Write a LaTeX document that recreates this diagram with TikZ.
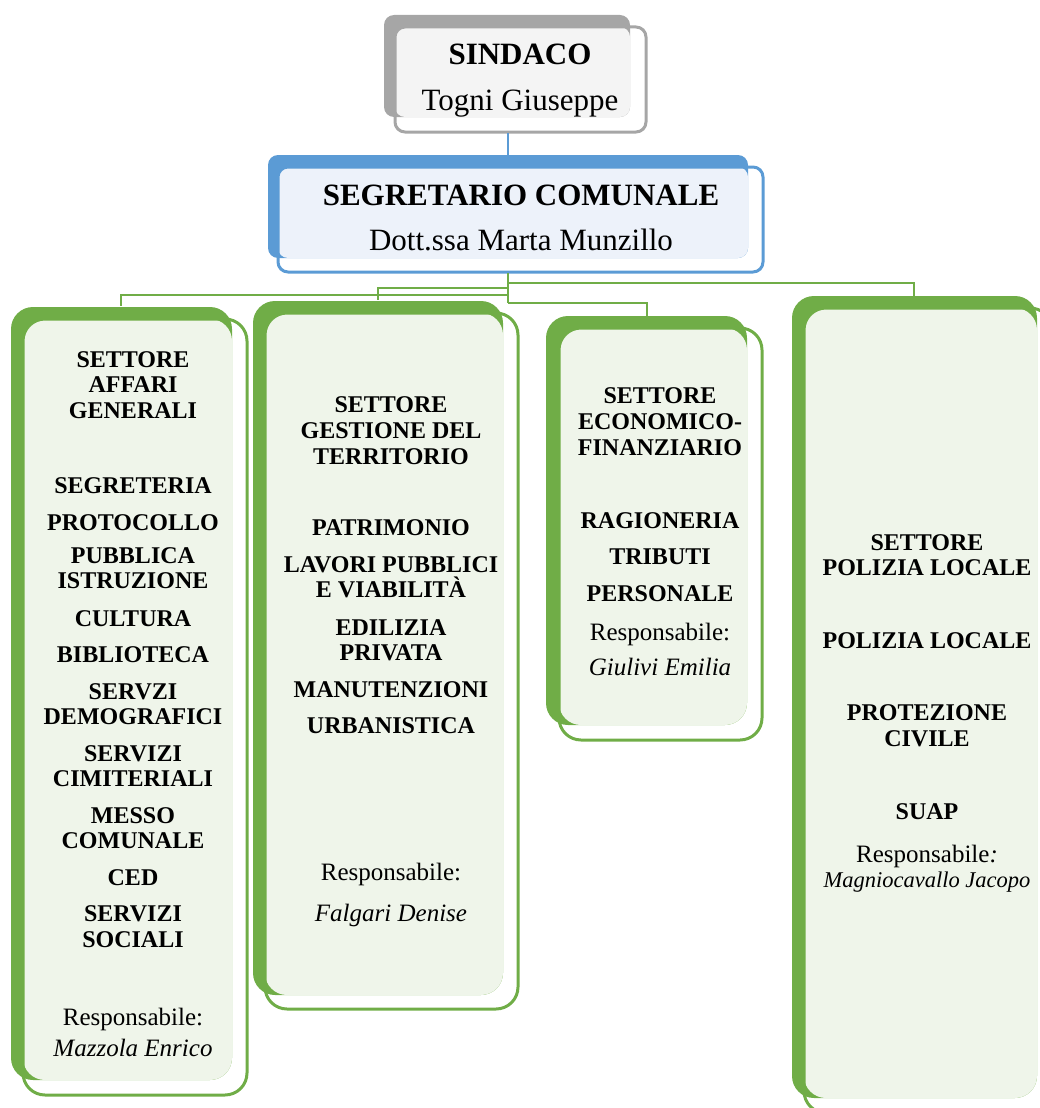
\documentclass[tikz,border=0pt]{standalone}
\usepackage{fontspec}
\setmainfont{Liberation Serif}
\definecolor{grn}{HTML}{70AD47}
\definecolor{grnfill}{RGB}{239,245,234}
\definecolor{gry}{HTML}{A6A6A6}
\definecolor{gryfill}{RGB}{244,244,244}
\definecolor{blu}{HTML}{5B9BD5}
\definecolor{blufill}{RGB}{237,242,250}
\newcommand\bxfont{\fontsize{24}{26}\selectfont\bfseries}
\newcommand\rgfont{\fontsize{25}{27}\selectfont}
\newcommand\topfont{\fontsize{31}{33}\selectfont}
\begin{document}
\begin{tikzpicture}[x=1pt,y=-1pt,
  bt/.style={font=\bxfont, inner sep=0, anchor=base},
  rt/.style={font=\rgfont, inner sep=0, anchor=base},
  it/.style={font=\rgfont\itshape, inner sep=0, anchor=base},
  tt/.style={font=\topfont\bfseries, inner sep=0, anchor=base},
  tr/.style={font=\topfont, inner sep=0, anchor=base},
  gline/.style={draw=grn, line width=2.5pt},
  bline/.style={draw=blu, line width=2pt},
  gback/.style={fill=grn, rounded corners=22pt},
  gfill/.style={fill=grnfill, rounded corners=22pt},
  gout/.style={draw=grn, line width=3pt, rounded corners=22pt},
]
\useasboundingbox (0,0) rectangle (1040,1108);
\clip (0,0) rectangle (1040,1108);

% ---------- SINDACO ----------
\fill[gry, rounded corners=10pt] (384,15) rectangle (630,117);
\fill[gryfill, rounded corners=10pt] (395,27) rectangle (630,117);
\draw[gry, line width=3pt, rounded corners=10pt] (395,27) rectangle (646,132);
\node[tt] (sind1) at (520,65) {SINDACO};
\node[tr] (sind2) at (520,110) {Togni Giuseppe};

% ---------- SEGRETARIO ----------
\fill[blu, rounded corners=10pt] (268,155) rectangle (748,258);
\fill[blufill, rounded corners=10pt] (278,167) rectangle (748,258);
\draw[blu, line width=3pt, rounded corners=10pt] (278,167) rectangle (763,272);
\node[tt] (seg1) at (521,205) {SEGRETARIO COMUNALE};
\node[tr] (seg2) at (521,250) {Dott.ssa Marta Munzillo};

% ---------- connectors ----------
\coordinate (sindB) at (508,133);
\coordinate (segT) at (508,155);
\coordinate (segB) at (508,273);
\coordinate (j1) at (508,283);
\coordinate (j2) at (508,288);
\coordinate (j3) at (508,295);
\coordinate (j4) at (508,303);
\coordinate (b1T) at (121,306);
\coordinate (b2T) at (378,300);
\coordinate (b3T) at (647,316);
\coordinate (b4T) at (914,296);
\draw[bline] (sindB) -- (segT);
\draw[gline] (segB) -- (j4);
\draw[gline] (j1) -| (b4T);
\draw[gline] (j2) -| (b2T);
\draw[gline] (j3) -| (b1T);
\draw[gline] (j4) -| (b3T);

% ---------- Box 1 ----------
\fill[gback] (11,307) rectangle (232,1080);
\fill[gfill] (23,319) rectangle (232,1080);
\draw[gout] (23,319) rectangle (247,1095);
\node[bt] (a1) at (133,367.5) {SETTORE};
\node[bt] (a2) at (133,392.5) {AFFARI};
\node[bt] (a3) at (133,418) {GENERALI};
\node[bt] (a4) at (133,493) {SEGRETERIA};
\node[bt] (a5) at (133,530) {PROTOCOLLO};
\node[bt] (a6) at (133,563) {PUBBLICA};
\node[bt] (a7) at (133,588) {ISTRUZIONE};
\node[bt] (a8) at (133,626.5) {CULTURA};
\node[bt] (a9) at (133,662.5) {BIBLIOTECA};
\node[bt] (a10) at (133,699.5) {SERVZI};
\node[bt] (a11) at (133,724.5) {DEMOGRAFICI};
\node[bt] (a12) at (133,761.5) {SERVIZI};
\node[bt] (a13) at (133,786.5) {CIMITERIALI};
\node[bt] (a14) at (133,823.5) {MESSO};
\node[bt] (a15) at (133,848.5) {COMUNALE};
\node[bt] (a16) at (133,885.5) {CED};
\node[bt] (a17) at (133,921.5) {SERVIZI};
\node[bt] (a18) at (133,947.5) {SOCIALI};
\node[rt] (a19) at (133,1025) {Responsabile:};
\node[it] (a20) at (133,1056) {Mazzola Enrico};

% ---------- Box 2 ----------
\fill[gback] (253,301) rectangle (503,995);
\fill[gfill] (265,313) rectangle (503,995);
\draw[gout] (265,313) rectangle (518,1009);
\node[bt] (b1) at (391,412.5) {SETTORE};
\node[bt] (b2) at (391,438.5) {GESTIONE DEL};
\node[bt] (b3) at (391,464.5) {TERRITORIO};
\node[bt] (b4) at (391,535.5) {PATRIMONIO};
\node[bt] (b5) at (391,572.5) {LAVORI PUBBLICI};
\node[bt] (b6) at (391,597.5) {E VIABILITÀ};
\node[bt] (b7) at (391,635.5) {EDILIZIA};
\node[bt] (b8) at (391,660.5) {PRIVATA};
\node[bt] (b9) at (391,697.5) {MANUTENZIONI};
\node[bt] (b10) at (391,733.5) {URBANISTICA};
\node[rt] (b11) at (391,880) {Responsabile:};
\node[it] (b12) at (391,921) {Falgari Denise};

% ---------- Box 3 ----------
\fill[gback] (546,316) rectangle (747,725);
\fill[gfill] (559,328) rectangle (747,725);
\draw[gout] (559,328) rectangle (762,740);
\node[bt] (c1) at (660,403.5) {SETTORE};
\node[bt] (c2) at (660,429.5) {ECONOMICO-};
\node[bt] (c3) at (660,455.5) {FINANZIARIO};
\node[bt] (c4) at (660,528.5) {RAGIONERIA};
\node[bt] (c5) at (660,564.5) {TRIBUTI};
\node[bt] (c6) at (660,601.5) {PERSONALE};
\node[rt] (c7) at (660,640) {Responsabile:};
\node[it] (c8) at (660,675) {Giulivi Emilia};

% ---------- Box 4 ----------
\fill[gback] (792,296) rectangle (1037,1098);
\fill[gfill] (804,308) rectangle (1037,1098);
\draw[gout] (804,308) rectangle (1052,1113);
\node[bt] (d1) at (927,550.5) {SETTORE};
\node[bt] (d2) at (927,575.5) {POLIZIA LOCALE};
\node[bt] (d3) at (927,648.5) {POLIZIA LOCALE};
\node[bt] (d4) at (927,720.5) {PROTEZIONE};
\node[bt] (d5) at (927,746.5) {CIVILE};
\node[bt] (d6) at (927,819.5) {SUAP};
\node[rt] (d7) at (927,862) {Responsabile\textit{:}};
\node[it, font=\fontsize{22.5}{25}\selectfont\itshape] (d8) at (927,887) {Magniocavallo Jacopo};
\end{tikzpicture}
\end{document}
